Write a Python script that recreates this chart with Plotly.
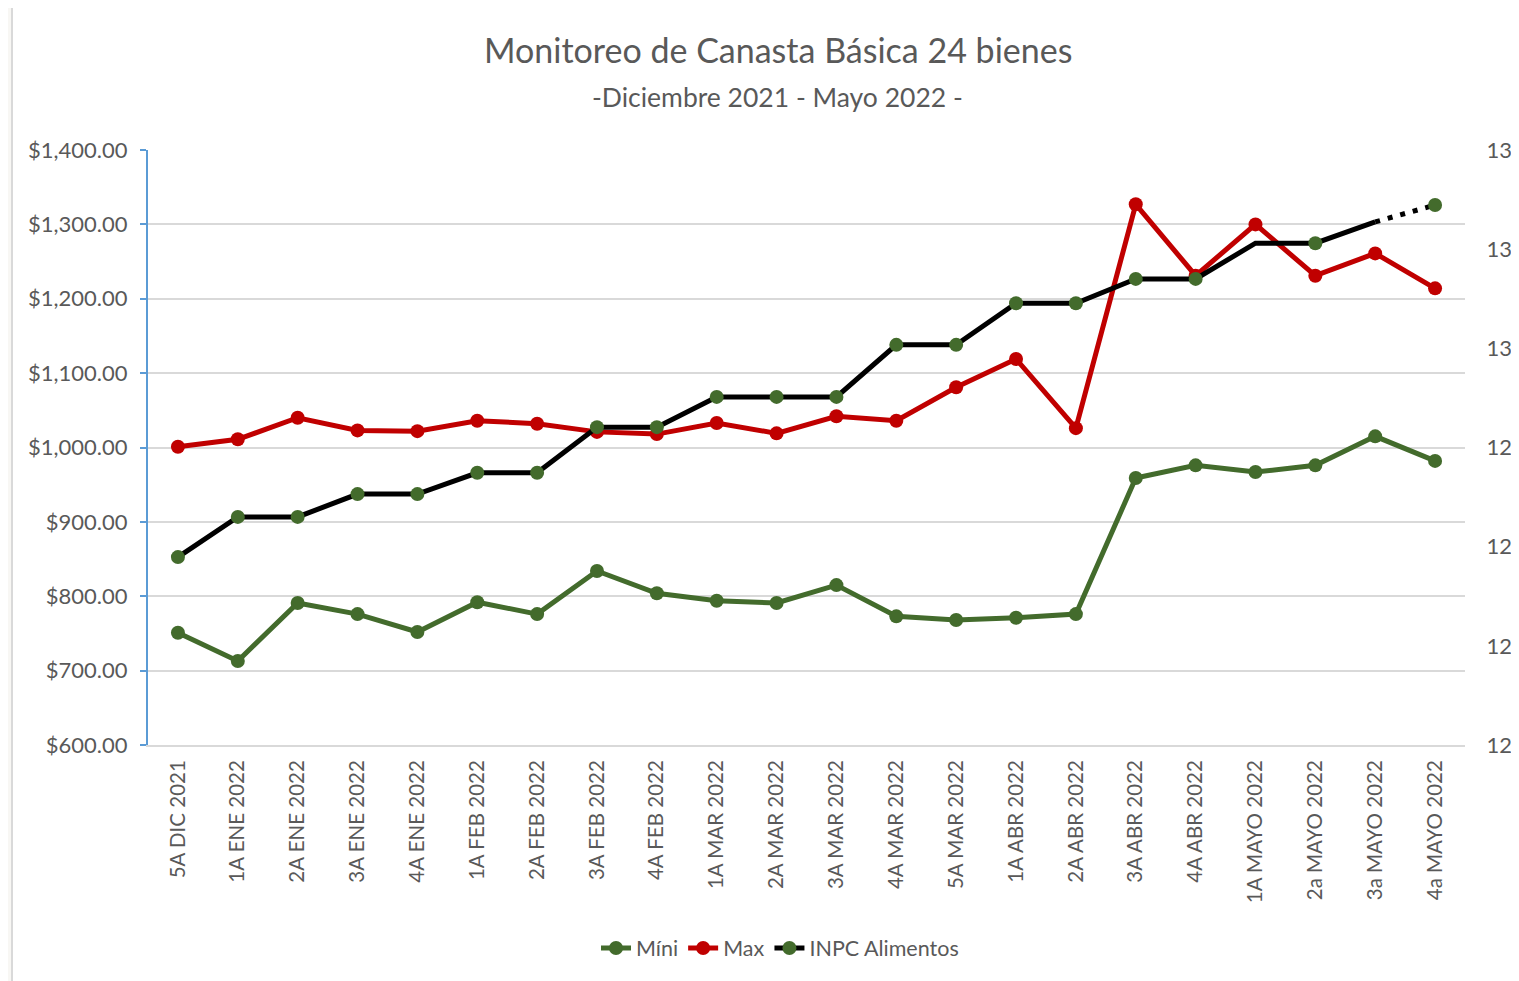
import plotly.graph_objects as go

categories = ["5A DIC 2021", "1A ENE 2022", "2A ENE 2022", "3A ENE 2022", "4A ENE 2022",
              "1A FEB 2022", "2A FEB 2022", "3A FEB 2022", "4A FEB 2022",
              "1A MAR 2022", "2A MAR 2022", "3A MAR 2022", "4A MAR 2022", "5A MAR 2022",
              "1A ABR 2022", "2A ABR 2022", "3A ABR 2022", "4A ABR 2022",
              "1A MAYO 2022", "2a MAYO 2022", "3a MAYO 2022", "4a MAYO 2022"]

mini = [751, 713, 791, 776, 752, 792, 776, 834, 804, 794, 791, 815, 773, 768, 771, 776,
        959, 976, 967, 976, 1015, 982]
maxv = [1001, 1011, 1040, 1023, 1022, 1036, 1032, 1021, 1018, 1033, 1019, 1042, 1036, 1081,
        1119, 1026, 1327, 1231, 1300, 1231, 1261, 1214]
inpc = [125.79, 126.60, 126.60, 127.06, 127.06, 127.49, 127.49, 128.41, 128.41, 129.02, 129.02,
        129.02, 130.07, 130.07, 130.91, 130.91, 131.40, 131.40, 132.12, 132.12, 132.55, 132.89]
inpc_no_marker = ["1A MAYO 2022", "3a MAYO 2022"]

left_ticks = [600, 700, 800, 900, 1000, 1100, 1200, 1300, 1400]
left_tick_text = ["$600.00", "$700.00", "$800.00", "$900.00", "$1,000.00", "$1,100.00",
                  "$1,200.00", "$1,300.00", "$1,400.00"]
right_ticks = [122, 124, 126, 128, 130, 132, 134]

GREEN = "#436b2c"
RED = "#c00000"
BLACK = "#000000"
GRAY = "#595959"
FONT = "Lato"

# the page body has an 8px margin; lay out in page pixels and shift
OFF = 8
W, H = 1519 - OFF, 981 - OFF
L, R, T, B = 148 - OFF, 1465 - OFF, 150 - OFF, 745 - OFF


def px_x(p):
    return (p - OFF - L) / (R - L)


def px_y(p):
    return (B - (p - OFF)) / (B - T)


fig = go.Figure()

fig.add_trace(go.Scatter(x=categories, y=mini, name="Míni", mode="lines+markers",
                         line=dict(color=GREEN, width=5),
                         marker=dict(color=GREEN, size=14)))
fig.add_trace(go.Scatter(x=categories, y=maxv, name="Max", mode="lines+markers",
                         line=dict(color=RED, width=5),
                         marker=dict(color=RED, size=14)))

solid_x = categories[:-1]
solid_y = inpc[:-1]
solid_colors = ["rgba(0,0,0,0)" if c in inpc_no_marker else GREEN for c in solid_x]
fig.add_trace(go.Scatter(x=solid_x, y=solid_y, name="INPC Alimentos", mode="lines+markers",
                         yaxis="y2", line=dict(color=BLACK, width=5),
                         marker=dict(color=solid_colors, size=14, line=dict(width=0))))
dot_x = categories[-2:]
dot_y = inpc[-2:]
dot_colors = ["rgba(0,0,0,0)" if c in inpc_no_marker else GREEN for c in dot_x]
fig.add_trace(go.Scatter(x=dot_x, y=dot_y, name="INPC Alimentos", mode="lines+markers",
                         yaxis="y2", showlegend=False,
                         line=dict(color=BLACK, width=5, dash="5px,8px"),
                         marker=dict(color=dot_colors, size=14, line=dict(width=0))))

fig.update_layout(
    width=W, height=H,
    margin=dict(l=L, r=W - R, t=T, b=H - B, autoexpand=False),
    paper_bgcolor="#f8f7f4",
    plot_bgcolor="white",
    font=dict(family=FONT, color=GRAY, size=20),
    showlegend=True,
    legend=dict(orientation="h", x=px_x(780), y=px_y(948), xanchor="center", yanchor="middle",
                font=dict(size=21.5, color=GRAY, family=FONT), bgcolor="rgba(0,0,0,0)"),
    xaxis=dict(type="category", categoryorder="array", categoryarray=categories,
               tickangle=-90, tickfont=dict(size=20.5, color=GRAY, family=FONT),
               showgrid=False, showline=True, linecolor="#d9d9d9", linewidth=2,
               ticks="", ticklabelstandoff=5, range=[-0.5, len(categories) - 0.5]),
    yaxis=dict(range=[600, 1400], tickvals=left_ticks, ticktext=left_tick_text,
               showgrid=True, gridcolor="#d9d9d9", gridwidth=2, zeroline=False,
               showline=True, linecolor="#5b9bd5", linewidth=2,
               ticks="outside", ticklen=6, tickcolor="#5b9bd5", tickwidth=2,
               ticklabelstandoff=8,
               tickfont=dict(size=22, color=GRAY, family=FONT)),
    yaxis2=dict(range=[122, 134], tickvals=right_ticks, overlaying="y", side="right",
                showgrid=False, zeroline=False, showline=False,
                ticks="outside", ticklen=16, tickcolor="rgba(0,0,0,0)",
                tickfont=dict(size=22, color=GRAY, family=FONT)),
    shapes=[dict(type="rect", xref="paper", yref="paper", layer="below",
                 x0=px_x(12), x1=px_x(1560), y0=px_y(5), y1=px_y(1020),
                 fillcolor="white", line=dict(color="#d9d9d9", width=2))],
    annotations=[
        dict(text="Monitoreo de Canasta Básica 24 bienes", xref="paper", yref="paper",
             x=px_x(778), y=px_y(50), xanchor="center", yanchor="middle", showarrow=False,
             font=dict(size=34, color=GRAY, family=FONT)),
        dict(text="-Diciembre 2021 - Mayo 2022 -", xref="paper", yref="paper",
             x=px_x(777), y=px_y(97), xanchor="center", yanchor="middle", showarrow=False,
             font=dict(size=26.5, color=GRAY, family=FONT)),
    ],
)

fig.write_html("out.html")
